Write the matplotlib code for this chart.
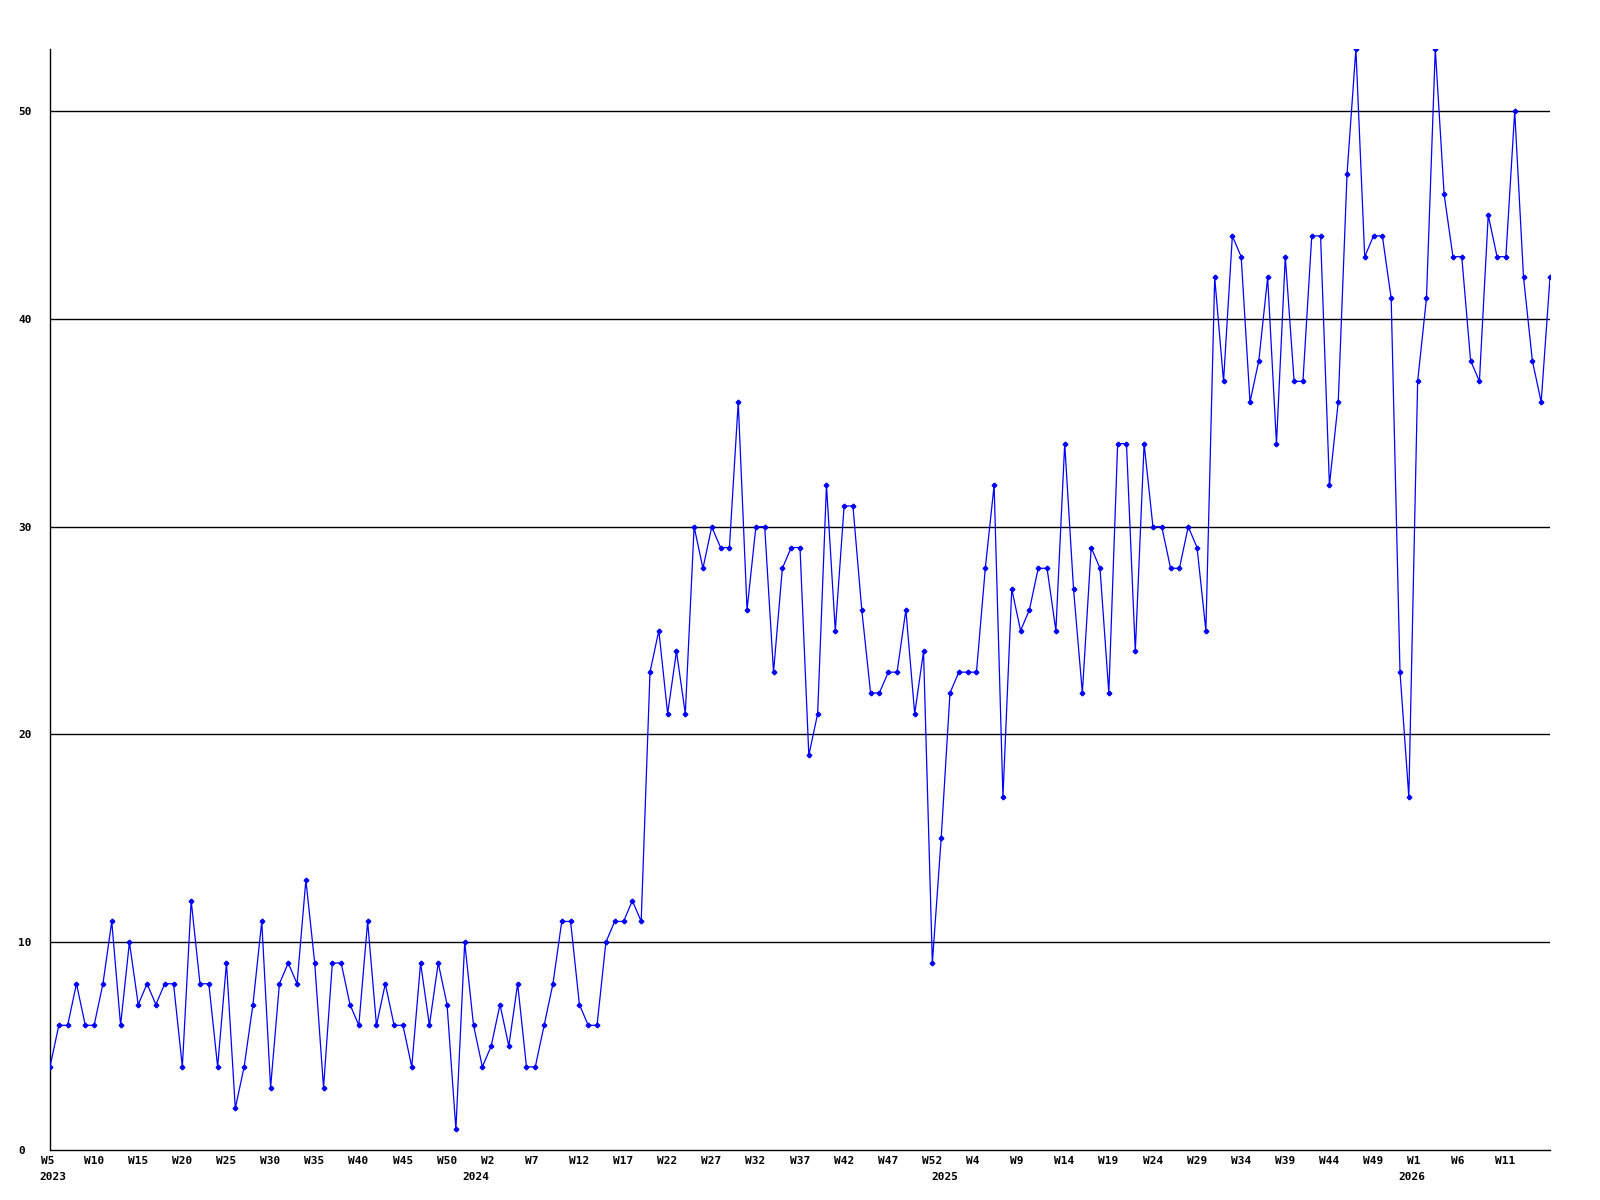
import matplotlib
matplotlib.use("Agg")
import matplotlib.pyplot as plt

# weekly counts, 2023 W5 .. 2026 W14 (one value per week)
counts = [
    4, 6, 6, 8, 6, 6, 8, 11, 6, 10, 7, 8, 7, 8, 8, 4, 12, 8, 8, 4,
    9, 2, 4, 7, 11, 3, 8, 9, 8, 13, 9, 3, 9, 9, 7, 6, 11, 6, 8, 6,
    6, 4, 9, 6, 9, 7, 1, 10, 6, 4, 5, 7, 5, 8, 4, 4, 6, 8, 11, 11,
    7, 6, 6, 10, 11, 11, 12, 11, 23, 25, 21, 24, 21, 30, 28, 30, 29, 29, 36, 26,
    30, 30, 23, 28, 29, 29, 19, 21, 32, 25, 31, 31, 26, 22, 22, 23, 23, 26, 21, 24,
    9, 15, 22, 23, 23, 23, 28, 32, 17, 27, 25, 26, 28, 28, 25, 34, 27, 22, 29, 28,
    22, 34, 34, 24, 34, 30, 30, 28, 28, 30, 29, 25, 42, 37, 44, 43, 36, 38, 42, 34,
    43, 37, 37, 44, 44, 32, 36, 47, 53, 43, 44, 44, 41, 23, 17, 37, 41, 53, 46, 43,
    43, 38, 37, 45, 43, 43, 50, 42, 38, 36, 42,
]

week_labels = ["W5", "W10", "W15", "W20", "W25", "W30", "W35", "W40", "W45", "W50",
               "W2", "W7", "W12", "W17", "W22", "W27", "W32", "W37", "W42", "W47",
               "W52", "W4", "W9", "W14", "W19", "W24", "W29", "W34", "W39", "W44",
               "W49", "W1", "W6", "W11"]
years = ["2023", "2024", "2025", "2026"]
year_x = [0.35, 48.3, 101.4, 154.3]
y_ticks = [0, 10, 20, 30, 40, 50]

fig = plt.figure(figsize=(16, 12), dpi=100)
ax = fig.add_axes([0.03125, 0.0417, 0.9375, 0.9175])

x = list(range(len(counts)))
ax.plot(x, counts, color="#0000ff", lw=0.9, marker="P", ms=3,
        mec="#0000ff", mfc="#0000ff", zorder=3)

for v in y_ticks[1:]:
    ax.axhline(v, color="black", lw=1, zorder=1)

for s in ["top", "right"]:
    ax.spines[s].set_visible(False)
for s in ["left", "bottom"]:
    ax.spines[s].set_color("black")
    ax.spines[s].set_linewidth(1)

font = dict(family="DejaVu Sans Mono", weight="bold", size=8)

ax.set_yticks(y_ticks)
ax.set_yticklabels([str(v) for v in y_ticks], ha="left", **font)
ax.tick_params(axis="y", length=0, pad=23)
ax.set_xticks([])

ax.set_xlim(0, len(counts) - 1)
ax.set_ylim(0, max(counts))

# week labels every 5th point, left edge a bit before the point
for i, lab in enumerate(week_labels):
    dx = -6.5 if i == 0 else -7.5
    ax.annotate(lab, xy=(i * 5, 0), xycoords=("data", "axes fraction"),
                xytext=(dx, -8), textcoords="offset points",
                ha="left", va="center", annotation_clip=False, **font)

for yr, xp in zip(years, year_x):
    ax.annotate(yr, xy=(xp, 0), xycoords=("data", "axes fraction"),
                xytext=(0, -19.5), textcoords="offset points",
                ha="center", va="center", annotation_clip=False, **font)

fig.savefig("out.png", dpi=100, facecolor="white")
